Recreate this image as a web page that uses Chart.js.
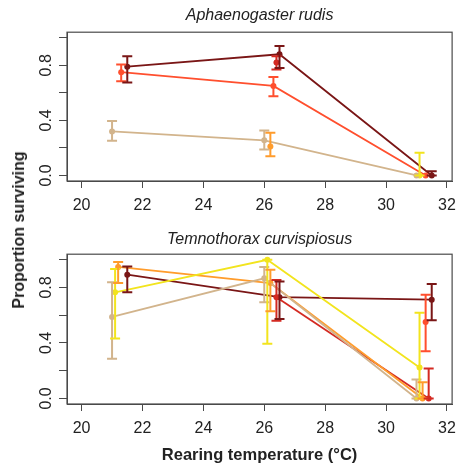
<!DOCTYPE html>
<html>
<head>
<meta charset="utf-8">
<script src="https://cdn.jsdelivr.net/npm/chart.js@4.4.0/dist/chart.umd.min.js"></script>
<style>
  html, body { margin: 0; padding: 0; background: #fff; }
  #wrap { position: relative; width: 464px; height: 467px; font-family: "Liberation Sans", Arial, sans-serif; }
  #top { position: absolute; left: 0; top: 0; width: 464px; height: 215px; }
  #bottom { position: absolute; left: 0; top: 215px; width: 464px; height: 252px; }
  #ytitle {
    position: absolute; left: 19px; top: 230px;
    transform: translate(-50%, -50%) rotate(-90deg);
    font-weight: bold; font-size: 16px; white-space: nowrap; color: #222;
  }
</style>
</head>
<body>
<div id="wrap">
  <div id="top"><canvas id="topChart"></canvas></div>
  <div id="bottom"><canvas id="bottomChart"></canvas></div>
  <div id="ytitle">Proportion surviving</div>
</div>
<script>
const temps = [21, 26, 31];
const xTicks = [20, 22, 24, 26, 28, 30, 32];
const yTicks = [0, 0.2, 0.4, 0.6, 0.8, 1.0];
const yTickLabels = ["0.0", "", "0.4", "", "0.8", ""];
const colours = ["#D2B48C", "#F2E41E", "#FF9C2C", "#FF4F2E", "#D42A22", "#7A1616"];

// Aphaenogaster rudis (rows follow colours)
const aphMean = [
  [0.32, 0.255, 0.0],
  [null, null, 0.0],
  [null, 0.21, null],
  [0.75, 0.65, 0.0],
  [null, 0.82, null],
  [0.79, 0.88, 0.0],
];
const aphLower = [
  [0.252, 0.189, 0.0],
  [null, null, 0.0],
  [null, 0.14, null],
  [0.684, 0.575, 0.0],
  [null, 0.77, null],
  [0.675, 0.78, 0.0],
];
const aphUpper = [
  [0.395, 0.327, 0.0],
  [null, null, 0.165],
  [null, 0.31, null],
  [0.805, 0.715, 0.0],
  [null, 0.865, null],
  [0.865, 0.94, 0.03],
];

// Temnothorax curvispiosus
const temMean = [
  [0.588, 0.866, 0.0],
  [0.765, 1.0, 0.223],
  [0.948, 0.832, 0.0],
  [null, null, 0.552],
  [null, 0.73, 0.0],
  [0.892, 0.73, 0.712],
];
const temLower = [
  [0.286, 0.694, 0.0],
  [0.432, 0.394, 0.0],
  [0.832, 0.628, 0.0],
  [null, null, 0.34],
  [null, 0.56, 0.0],
  [0.766, 0.573, 0.563],
];
const temUpper = [
  [0.837, 0.947, 0.137],
  [0.933, 1.0, 0.617],
  [0.983, 0.928, 0.117],
  [null, null, 0.748],
  [null, 0.854, 0.216],
  [0.952, 0.844, 0.825],
];

const dodge = 0.1;
const font = '"Liberation Sans", Arial, sans-serif';
const axisColour = "#4a4a4a";

// error bars with caps, drawn from the dataset arrays
const errorBars = {
  id: "errorBars",
  afterDatasetsDraw(chart, args, opts) {
    const { ctx, scales: { x, y } } = chart;
    ctx.save();
    ctx.lineWidth = 2;
    chart.data.datasets.forEach((ds, i) => {
      ds.data.forEach((p, j) => {
        const lo = opts.lower[i][j];
        const hi = opts.upper[i][j];
        if (p.y == null || lo == null || hi == null || hi - lo < 1e-6) return;
        const px = x.getPixelForValue(p.x);
        const y1 = y.getPixelForValue(lo);
        const y2 = y.getPixelForValue(hi);
        ctx.strokeStyle = ds.borderColor;
        ctx.beginPath();
        ctx.moveTo(px, y1);
        ctx.lineTo(px, y2);
        ctx.moveTo(px - 5, y1);
        ctx.lineTo(px + 5, y1);
        ctx.moveTo(px - 5, y2);
        ctx.lineTo(px + 5, y2);
        ctx.stroke();
      });
    });
    ctx.restore();
  },
};

// box round the plot region
const frame = {
  id: "frame",
  afterDraw(chart) {
    const { ctx, chartArea: a } = chart;
    ctx.save();
    ctx.strokeStyle = axisColour;
    ctx.lineWidth = 1.2;
    ctx.strokeRect(a.left, a.top, a.right - a.left, a.bottom - a.top);
    ctx.restore();
  },
};

function makeChart(id, title, mean, lower, upper, titlePad, xHeight, xTitle) {
  const datasets = mean.map((row, i) => ({
    data: temps.map((t, j) => ({ x: t + dodge * i, y: row[j] })),
    borderColor: colours[i],
    backgroundColor: colours[i],
    pointBackgroundColor: colours[i],
    pointBorderWidth: 0,
    pointRadius: 3,
    borderWidth: 1.8,
    tension: 0,
    spanGaps: false,
  }));

  return new Chart(document.getElementById(id), {
    type: "line",
    data: { datasets },
    options: {
      responsive: true,
      maintainAspectRatio: false,
      animation: false,
      layout: { padding: { left: 0, right: 7, top: 0, bottom: 0 } },
      plugins: {
        legend: { display: false },
        tooltip: { enabled: false },
        title: {
          display: true,
          fullSize: false,
          text: title,
          color: "#222",
          font: { family: font, size: 16, style: "italic", weight: "normal" },
          padding: titlePad,
        },
        errorBars: { lower, upper },
      },
      scales: {
        x: {
          type: "linear",
          min: 19.52,
          max: 32.17,
          afterBuildTicks: (s) => { s.ticks = xTicks.map((v) => ({ value: v })); },
          afterFit: (s) => { s.height = xHeight; },
          grid: { drawOnChartArea: false, drawTicks: true, tickLength: 7, color: axisColour },
          border: { display: true, color: axisColour },
          ticks: { color: "#222", font: { family: font, size: 16 }, padding: 8, maxRotation: 0 },
          title: xTitle
            ? { display: true, text: xTitle, color: "#222", font: { family: font, size: 16.5, weight: "bold" }, padding: { top: 2, bottom: 2 } }
            : { display: false },
        },
        y: {
          type: "linear",
          min: -0.04,
          max: 1.04,
          afterBuildTicks: (s) => { s.ticks = yTicks.map((v) => ({ value: v })); },
          afterFit: (s) => { s.width = 67; },
          grid: { drawOnChartArea: false, drawTicks: true, tickLength: 8, color: axisColour },
          border: { display: true, color: axisColour },
          ticks: {
            color: "#222",
            font: { family: font, size: 16 },
            minRotation: 90,
            maxRotation: 90,
            crossAlign: "center",
            padding: 1,
            callback: (v, idx) => yTickLabels[idx],
          },
        },
      },
    },
    plugins: [errorBars, frame],
  });
}

makeChart("topChart", "Aphaenogaster rudis", aphMean, aphLower, aphUpper,
  { top: 6, bottom: 7 }, 34, null);
makeChart("bottomChart", "Temnothorax curvispiosus", temMean, temLower, temUpper,
  { top: 15, bottom: 5 }, 63, "Rearing temperature (°C)");
</script>
</body>
</html>
